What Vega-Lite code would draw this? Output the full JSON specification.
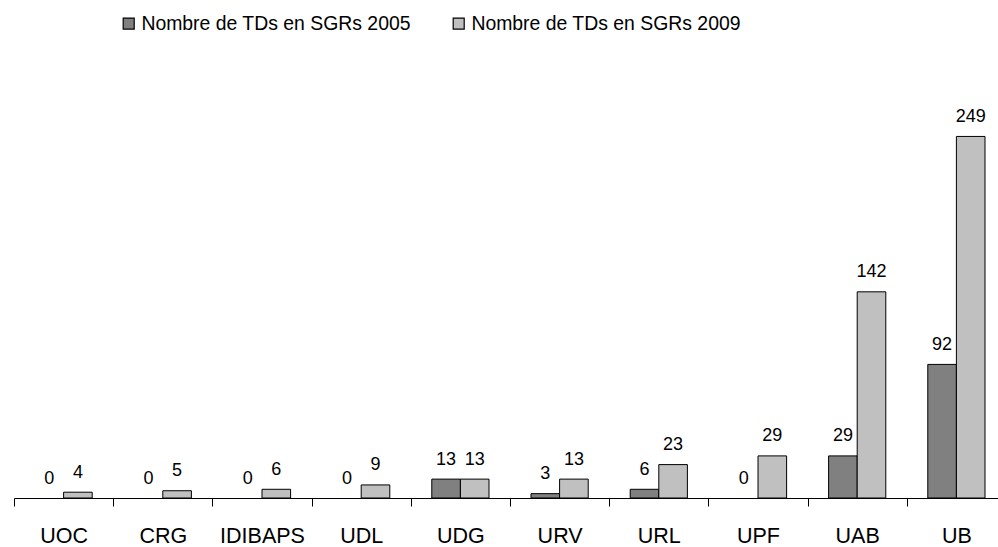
{
  "$schema": "https://vega.github.io/schema/vega-lite/v6.json",
  "width": 992,
  "height": 435.6,
  "autosize": {"type": "none"},
  "padding": {"left": 14, "top": 62.4, "right": 0, "bottom": 49},
  "config": {"view": {"stroke": null}, "font": "Liberation Sans"},
  "data": {
    "values": [
      {"inst": "UOC", "series": "Nombre de TDs en SGRs 2005", "value": 0},
      {"inst": "UOC", "series": "Nombre de TDs en SGRs 2009", "value": 4},
      {"inst": "CRG", "series": "Nombre de TDs en SGRs 2005", "value": 0},
      {"inst": "CRG", "series": "Nombre de TDs en SGRs 2009", "value": 5},
      {"inst": "IDIBAPS", "series": "Nombre de TDs en SGRs 2005", "value": 0},
      {"inst": "IDIBAPS", "series": "Nombre de TDs en SGRs 2009", "value": 6},
      {"inst": "UDL", "series": "Nombre de TDs en SGRs 2005", "value": 0},
      {"inst": "UDL", "series": "Nombre de TDs en SGRs 2009", "value": 9},
      {"inst": "UDG", "series": "Nombre de TDs en SGRs 2005", "value": 13},
      {"inst": "UDG", "series": "Nombre de TDs en SGRs 2009", "value": 13},
      {"inst": "URV", "series": "Nombre de TDs en SGRs 2005", "value": 3},
      {"inst": "URV", "series": "Nombre de TDs en SGRs 2009", "value": 13},
      {"inst": "URL", "series": "Nombre de TDs en SGRs 2005", "value": 6},
      {"inst": "URL", "series": "Nombre de TDs en SGRs 2009", "value": 23},
      {"inst": "UPF", "series": "Nombre de TDs en SGRs 2005", "value": 0},
      {"inst": "UPF", "series": "Nombre de TDs en SGRs 2009", "value": 29},
      {"inst": "UAB", "series": "Nombre de TDs en SGRs 2005", "value": 29},
      {"inst": "UAB", "series": "Nombre de TDs en SGRs 2009", "value": 142},
      {"inst": "UB", "series": "Nombre de TDs en SGRs 2005", "value": 92},
      {"inst": "UB", "series": "Nombre de TDs en SGRs 2009", "value": 249}
    ]
  },
  "encoding": {
    "x": {
      "field": "inst",
      "type": "nominal",
      "sort": ["UOC", "CRG", "IDIBAPS", "UDL", "UDG", "URV", "URL", "UPF", "UAB", "UB"],
      "scale": {"paddingInner": 0, "paddingOuter": 0},
      "axis": {
        "title": null,
        "labelAngle": 0,
        "labelFontSize": 21.5,
        "labelFont": "Liberation Sans",
        "labelColor": "black",
        "labelBaseline": "alphabetic",
        "labelPadding": 36,
        "tickBand": "extent",
        "tickSize": 8,
        "tickColor": "black",
        "tickWidth": 1,
        "domainColor": "black",
        "domainWidth": 1.2,
        "grid": false
      }
    },
    "xOffset": {
      "field": "series",
      "type": "nominal",
      "scale": {"paddingInner": 0, "paddingOuter": 0.734}
    },
    "y": {
      "field": "value",
      "type": "quantitative",
      "scale": {"domain": [0, 300]},
      "axis": null
    }
  },
  "layer": [
    {
      "transform": [{"filter": "datum.value > 0"}],
      "mark": {"type": "bar", "stroke": "black", "strokeWidth": 1},
      "encoding": {
        "color": {
          "field": "series",
          "type": "nominal",
          "scale": {"range": ["#808080", "#C0C0C0"]},
          "legend": {
            "orient": "none",
            "legendX": 105,
            "legendY": -49,
            "direction": "horizontal",
            "title": null,
            "symbolType": "square",
            "symbolSize": 121,
            "symbolStrokeColor": "black",
            "symbolStrokeWidth": 1.2,
            "symbolOpacity": 1,
            "labelFontSize": 19.4,
            "labelFont": "Liberation Sans",
            "labelColor": "black",
            "labelOffset": 3,
            "labelLimit": 0,
            "columnPadding": 38
          }
        }
      }
    },
    {
      "mark": {"type": "text", "baseline": "alphabetic", "dy": -14.5, "fontSize": 18, "font": "Liberation Sans", "color": "black"},
      "encoding": {"text": {"field": "value", "type": "quantitative"}}
    }
  ]
}
